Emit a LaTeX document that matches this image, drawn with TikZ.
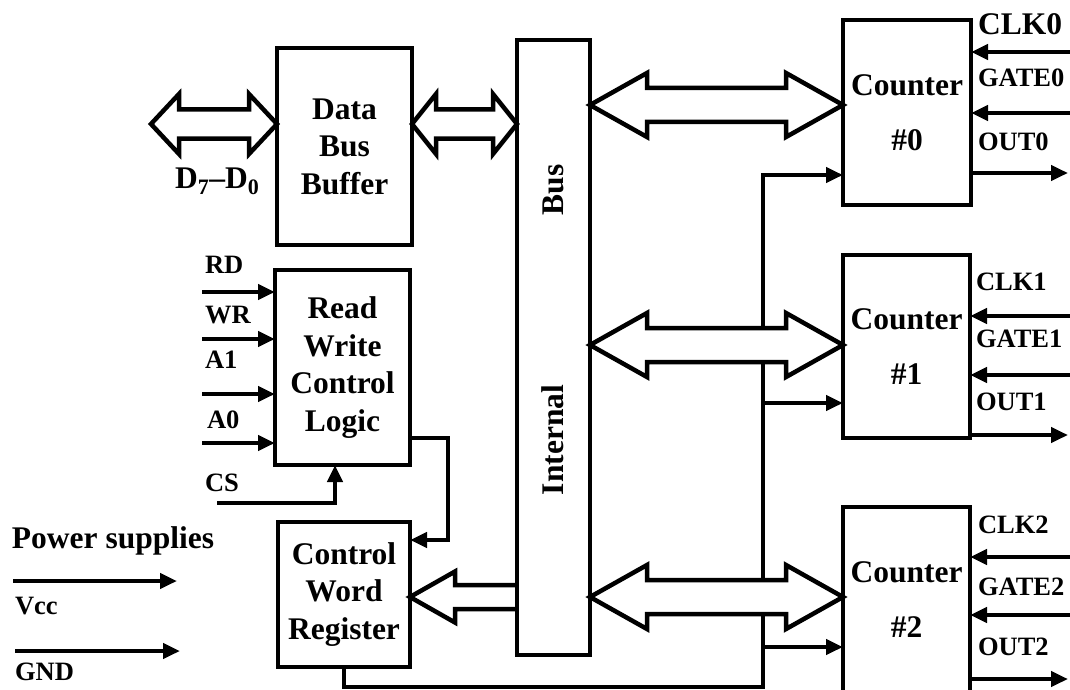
\documentclass[tikz,border=0pt]{standalone}
\usepackage{fontspec}
\setmainfont{Liberation Serif}
\usetikzlibrary{arrows.meta,calc}
\newcommand\boxfont{\fontsize{31.5}{37.5}\selectfont\bfseries}
\newcommand\sigfont{\fontsize{26.5}{30}\selectfont\bfseries}
\tikzset{
  box/.style={draw, line width=4.5pt, fill=white, inner sep=0pt, outer sep=0pt, align=center, font=\boxfont},
  wire/.style={line width=4.5pt},
  arr/.style={wire, -{Triangle[length=17pt,width=15pt]}},
  fat/.style={line width=4.5pt, fill=white, line join=miter},
  lbl/.style={inner sep=0pt, outer sep=0pt, anchor=base west, font=\sigfont},
  biglbl/.style={inner sep=0pt, outer sep=0pt, anchor=base west, font=\boxfont},
  vtxt/.style={inner sep=0pt, rotate=90, font=\boxfont},
}
\newcommand\dblarrow[5]{% left tip, right tip, head length, half head, half shaft
  \draw[fat] (#1) -- ++(#3,-#4) -- ++(0,{#4-#5}) -- ($(#2)+(-#3,-#5)$) -- ++(0,{#5-#4}) -- (#2)
    -- ++(-#3,#4) -- ++(0,{#5-#4}) -- ($(#1)+(#3,#5)$) -- ++(0,{#4-#5}) -- cycle;}
\begin{document}
\begin{tikzpicture}[x=1pt,y=-1pt]
\useasboundingbox (0,0) rectangle (1070,690);

% box positions
\path
  (344.5,146.5) coordinate (pdbb)
  (553.5,347.5) coordinate (pbus)
  (342.5,367.5) coordinate (prw)
  (344,594.5) coordinate (pcw)
  (907,112.5) coordinate (pc0)
  (906.5,346.5) coordinate (pc1)
  (906.5,599.5) coordinate (pc2);

% counters, control word register, bus
\node[box, minimum width=128pt, minimum height=185pt] (c0) at (pc0) {Counter\\[17.5pt]\#0};
\node[box, minimum width=127pt, minimum height=183pt] (c1) at (pc1) {Counter\\[17.5pt]\#1};
\node[box, minimum width=127pt, minimum height=185pt] (c2) at (pc2) {Counter\\[17.5pt]\#2};
\node[box, minimum width=132pt, minimum height=145pt] (cw) at (pcw) {Control\\Word\\Register};
\node[box, minimum width=73pt, minimum height=615pt] (bus) at (pbus) {};

% vertical feed line and branches
\coordinate (bend) at (763,687);
\coordinate (t1) at (763,403);
\coordinate (t2) at (763,647);
\draw[arr] (cw.south) |- (bend) |- (c0.west |- 0,175);
\draw[arr] (t1) -- (c1.west |- 0,403);
\draw[arr] (t2) -- (c2.west |- 0,647);

% data bus buffer and wide bus arrows
\coordinate (dleft) at (151,124);
\node[box, minimum width=135pt, minimum height=197pt] (dbb) at (pdbb) {Data\\Bus\\Buffer};
\dblarrow{dleft}{dbb.west |- 0,124}{28}{30}{14.5}
\dblarrow{dbb.east |- 0,124}{bus.west |- 0,124}{24}{30}{14.5}
\dblarrow{bus.east |- 0,105}{c0.west |- 0,105}{57}{32}{17}
\dblarrow{bus.east |- 0,345}{c1.west |- 0,345}{57}{32}{17}
\dblarrow{bus.east |- 0,597}{c2.west |- 0,597}{57}{32}{17}
\draw[fat] ($(bus.west |- 0,597)+(0,-12)$) -- ($(cw.east |- 0,597)+(45,-12)$) -- ++(0,{12-25.5})
  -- (cw.east |- 0,597) -- ++(45,25.5) -- ++(0,{12-25.5}) -- ($(bus.west |- 0,597)+(0,12)$);

% bus outline over arrow ends
\draw[line width=4.5pt] (bus.north west) rectangle (bus.south east);
\node[vtxt] (bustxt) at (553,190) {Bus};
\node[vtxt] (inttxt) at (553,440) {Internal};

% read/write control logic
\node[box, minimum width=135pt, minimum height=195pt] (rw) at (prw) {Read\\Write\\Control\\Logic};
\coordinate (inrd) at (202,292);
\coordinate (inwr) at (202,339);
\coordinate (ina1) at (202,394);
\coordinate (ina0) at (202,443);
\draw[arr] (inrd) -- (rw.west |- inrd);
\draw[arr] (inwr) -- (rw.west |- inwr);
\draw[arr] (ina1) -- (rw.west |- ina1);
\draw[arr] (ina0) -- (rw.west |- ina0);
\coordinate (cs) at (217,503);
\coordinate (csin) at (rw.south -| 335,0);
\draw[arr] (cs) -| (csin);
\coordinate (rwk) at (448,438);
\draw[arr] (rw.east |- rwk) -- (rwk) |- (cw.east |- 0,540);

\node[lbl] (lrd) at (205,273.6) {RD};
\node[lbl] (lwr) at (205,323.6) {WR};
\node[lbl] (la1) at (205,368.6) {A1};
\node[lbl] (la0) at (207,428.6) {A0};
\node[lbl] (lcs) at (205,491.6) {CS};

% data bus label
\node[biglbl] (ld) at (175,188.3) {D\textsubscript{7}–D\textsubscript{0}};

% counter signals
\draw[arr] (1072,52) -- (c0.east |- 0,52);
\draw[arr] (1072,113) -- (c0.east |- 0,113);
\draw[arr] (c0.east |- 0,173) -- (1068,173);
\draw[arr] (1072,316) -- (c1.east |- 0,316);
\draw[arr] (1072,375) -- (c1.east |- 0,375);
\draw[arr] (c1.east |- 0,435) -- (1068,435);
\draw[arr] (1072,557) -- (c2.east |- 0,557);
\draw[arr] (1072,615) -- (c2.east |- 0,615);
\draw[arr] (c2.east |- 0,679) -- (1068,679);

\node[lbl, font=\boxfont] (lclk0) at (978,35) {CLK0};
\node[lbl] (lgate0) at (978,86.6) {GATE0};
\node[lbl] (lout0) at (978,150.6) {OUT0};
\node[lbl] (lclk1) at (976,290.6) {CLK1};
\node[lbl] (lgate1) at (976,347.6) {GATE1};
\node[lbl] (lout1) at (976,410.6) {OUT1};
\node[lbl] (lclk2) at (978,533.6) {CLK2};
\node[lbl] (lgate2) at (978,595.6) {GATE2};
\node[lbl] (lout2) at (978,655.6) {OUT2};

% power supplies
\node[biglbl] (lpow) at (12,548.3) {Power supplies};
\coordinate (vcca) at (13,581);
\coordinate (vccb) at (177,581);
\coordinate (gnda) at (15,651);
\coordinate (gndb) at (180,651);
\draw[arr] (vcca) -- (vccb);
\draw[arr] (gnda) -- (gndb);
\node[lbl] (lvcc) at (15,614.6) {Vcc};
\node[lbl] (lgnd) at (15,680.6) {GND};
\end{tikzpicture}
\end{document}
